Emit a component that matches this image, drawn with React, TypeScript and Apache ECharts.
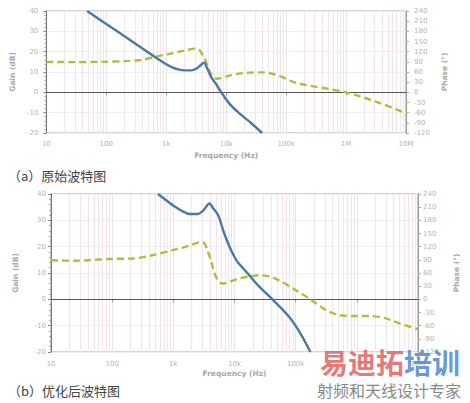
import React, { useEffect, useRef } from 'react';
import * as echarts from 'echarts';

// Chart (a): original Bode plot
const gainAFreq = [48, 100, 316, 630, 955, 1260, 1580, 2000, 2630, 3160, 3700, 4270, 4790, 5620, 6460, 8300, 11500, 17800, 26300, 39800];
const gainAVal = [40, 33.6, 23.7, 17.6, 14.2, 12.3, 11.3, 10.8, 10.8, 11.6, 13.2, 14.6, 12, 7.5, 5.0, 0, -5.8, -11.1, -15.2, -20];
const phaseAFreq = [10, 30, 85, 200, 400, 650, 1230, 2000, 3000, 3550, 4000, 4400, 5000, 6000, 7000, 9000, 12000, 18000, 30000, 40000, 70000, 155000, 1000000, 3700000, 10000000];
const phaseAVal = [90, 89, 90, 92, 96, 105, 115, 123, 129, 126, 112, 100, 72, 46, 40, 44, 51, 56, 59, 59, 51, 27, 0, -32, -62];

// Chart (b): optimised Bode plot
const gainBFreq = [560, 700, 980, 1400, 1860, 2500, 3100, 3900, 4500, 5400, 6800, 8300, 9300, 11000, 17400, 25000, 41700, 78000, 120000, 174000];
const gainBVal = [40, 38.3, 35.7, 33.5, 32.4, 32.4, 33.8, 36.4, 34.5, 31.9, 25, 20, 17.5, 14.5, 9.2, 5, 0, -6.6, -13, -20];
const phaseBFreq = [10, 25, 90, 220, 470, 980, 1800, 2700, 3200, 3600, 4200, 4700, 5400, 6300, 7500, 9500, 12000, 17400, 25000, 42000, 100000, 174000, 310000, 510000, 1000000, 1580000, 2900000, 5000000, 10000000];
const phaseBVal = [89, 88, 92, 93, 101, 112, 122, 130, 128, 112, 85, 60, 43, 36, 37, 43, 48, 52, 55, 50, 21, 0, -24, -36, -38, -38, -43, -55, -68];

const freqLabels: Record<number, string> = { 10: '10', 100: '100', 1000: '1k', 10000: '10k', 100000: '100k', 1000000: '1M', 10000000: '10M' };
const gainTicks = { min: -20, max: 40, interval: 10 };
const phaseTicks = { min: -120, max: 240, interval: 30 };
const captionA = '（a）原始波特图';
const captionB = '（b）优化后波特图';

const zip = (f: number[], v: number[]) => f.map((x, i) => [x, v[i]]);

// minor log grid positions (2..9 within each decade)
const minorGrid: number[] = [];
for (let d = 10; d < 1e7; d *= 10) for (let m = 2; m <= 9; m++) minorGrid.push(d * m);

const LBL = '#b3b3b3';
const FONT = 'DejaVu Sans';
const BLUE = '#4b79a2';
const GREEN = '#a9c23e';

function xAxisCfg(gridIndex: number, margin: number, nameGap: number) {
  return {
    type: 'log', gridIndex, min: 10, max: 1e7, logBase: 10,
    name: 'Frequency (Hz)', nameLocation: 'middle', nameGap,
    nameTextStyle: { color: '#a8a8a8', fontSize: 7.5, fontWeight: 'bold', fontFamily: FONT },
    axisLine: { show: true, lineStyle: { color: '#777', width: 1 } },
    axisTick: { show: true, length: 3, lineStyle: { color: '#999' } },
    axisLabel: { color: LBL, fontSize: 7, fontFamily: FONT, margin, formatter: (v: number) => freqLabels[Math.round(v)] ?? '' },
    splitLine: { show: true, lineStyle: { color: '#e6e6e6', width: 1 } },
  };
}

function gainAxis(gridIndex: number, nameGap: number, margin: number) {
  return {
    type: 'value', gridIndex, position: 'left', ...gainTicks,
    name: 'Gain (dB)', nameLocation: 'middle', nameGap, nameRotate: 90,
    nameTextStyle: { color: '#a8a8a8', fontSize: 7.5, fontWeight: 'bold', fontFamily: FONT },
    axisLine: { show: true, lineStyle: { color: '#777', width: 1 } },
    axisTick: { show: true, length: 3, lineStyle: { color: '#888' } },
    minorTick: { show: true, splitNumber: 5, length: 2, lineStyle: { color: '#aaa' } },
    axisLabel: { color: LBL, fontSize: 7, fontFamily: FONT, margin },
    splitLine: { show: true, lineStyle: { color: '#f0f0f0', width: 1 } },
  };
}

function phaseAxis(gridIndex: number, nameGap: number, margin: number) {
  return {
    type: 'value', gridIndex, position: 'right', ...phaseTicks,
    name: 'Phase (°)', nameLocation: 'middle', nameGap, nameRotate: 90,
    nameTextStyle: { color: '#a8a8a8', fontSize: 7.5, fontWeight: 'bold', fontFamily: FONT },
    axisLine: { show: true, lineStyle: { color: '#999', width: 1 } },
    axisTick: { show: true, length: 3, lineStyle: { color: '#aaa' } },
    axisLabel: { color: LBL, fontSize: 7, fontFamily: FONT, margin },
    splitLine: { show: false },
  };
}

function gridLinesSeries(xi: number, yi: number) {
  return {
    type: 'line', xAxisIndex: xi, yAxisIndex: yi, data: [], z: 1, silent: true,
    markLine: {
      z: 1, silent: true, symbol: ['none', 'none'], label: { show: false },
      lineStyle: { color: '#f4e4ec', type: 'solid', width: 1.2 },
      data: minorGrid.map((f) => ({ xAxis: f })),
    },
  };
}

function gainSeries(xi: number, yi: number, data: number[][]) {
  return {
    type: 'line', xAxisIndex: xi, yAxisIndex: yi, data, smooth: 0.3, showSymbol: false, z: 4,
    lineStyle: { color: BLUE, width: 2.4 },
    markLine: {
      z: 2, silent: true, symbol: ['none', 'none'], label: { show: false },
      lineStyle: { color: '#555', type: 'solid', width: 1.2 },
      data: [{ yAxis: 0 }],
    },
  };
}

function phaseSeries(xi: number, yi: number, data: number[][]) {
  return {
    type: 'line', xAxisIndex: xi, yAxisIndex: yi, data, smooth: 0.3, showSymbol: false, z: 3,
    lineStyle: { color: GREEN, width: 2.4, type: [7, 4] },
  };
}

export default function App() {
  const ref = useRef<HTMLDivElement>(null);
  useEffect(() => {
    if (!ref.current) return;
    const chart = echarts.init(ref.current, undefined, { renderer: 'svg' });
    chart.setOption({
      animation: false,
      backgroundColor: '#ffffff',
      grid: [
        { left: 44, top: 11, width: 362, height: 122, show: true, borderColor: '#aaa', borderWidth: 1.2, backgroundColor: 'transparent' },
        { left: 51, top: 194, width: 367, height: 158, show: true, borderColor: '#aaa', borderWidth: 1.2, backgroundColor: 'transparent' },
      ],
      xAxis: [xAxisCfg(0, 7, 18), xAxisCfg(1, 8, 17)],
      yAxis: [gainAxis(0, 25, 8), phaseAxis(0, 33, 8), gainAxis(1, 32, 5), phaseAxis(1, 34, 5)],
      series: [
        gridLinesSeries(0, 0),
        phaseSeries(0, 1, zip(phaseAFreq, phaseAVal)),
        gainSeries(0, 0, zip(gainAFreq, gainAVal)),
        gridLinesSeries(1, 2),
        phaseSeries(1, 3, zip(phaseBFreq, phaseBVal)),
        gainSeries(1, 2, zip(gainBFreq, gainBVal)),
      ],
      graphic: [
        { type: 'text', left: 8, top: 169, style: { text: captionA, fill: '#444', font: '13px "Noto Sans CJK SC"' } },
        { type: 'text', left: 8, top: 384, style: { text: captionB, fill: '#444', font: '13px "Noto Sans CJK SC"' } },
        { type: 'text', left: 320, top: 348, z: 10, style: { text: '易迪拓', fill: 'rgba(224,98,98,0.85)', font: 'bold 28px "Noto Sans CJK SC"' } },
        { type: 'text', left: 404, top: 348, z: 10, style: { text: '培训', fill: 'rgba(80,135,205,0.85)', font: 'bold 28px "Noto Sans CJK SC"' } },
        { type: 'text', left: 317, top: 382, z: 10, style: { text: '射频和天线设计专家', fill: '#8a8a8a', font: '16px "Noto Sans CJK SC"' } },
      ],
    });
    return () => chart.dispose();
  }, []);
  return <div ref={ref} style={{ position: 'fixed', left: 0, top: 0, width: 470, height: 403 }} />;
}
